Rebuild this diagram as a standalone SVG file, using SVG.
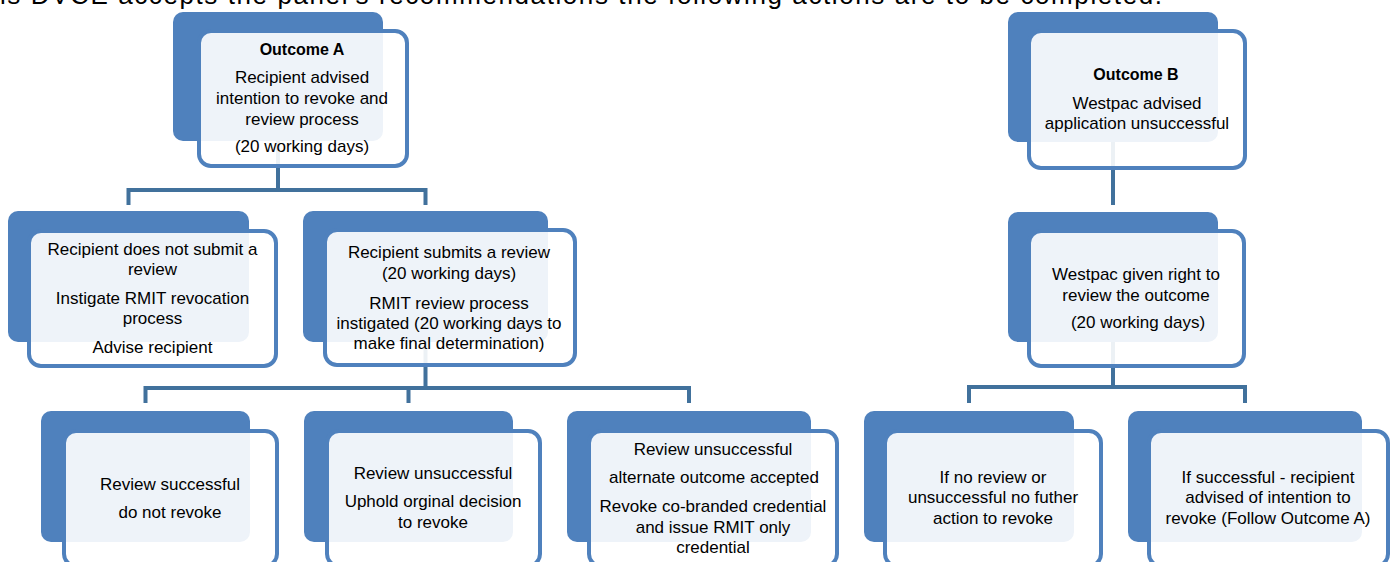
<svg xmlns="http://www.w3.org/2000/svg" width="1395" height="562" viewBox="0 0 1395 562">
<style>
.bk{fill:#4F81BD}
.fr{fill:#FFFFFF;fill-opacity:0.9;stroke:#4F81BD;stroke-width:4}
.cn{fill:none;stroke:#41719C;stroke-width:4;stroke-linejoin:miter}
.t{font-family:"Liberation Sans",Arial,sans-serif;font-size:17px;fill:#000;text-anchor:middle}
.b{font-family:"Liberation Sans",Arial,sans-serif;font-size:16px;font-weight:bold;fill:#000;text-anchor:middle}
.hd{font-family:"Liberation Sans",Arial,sans-serif;font-size:26px;fill:#000}
</style>
<rect width="1395" height="562" fill="#FFFFFF"/>
<text class="hd" x="0" y="4" textLength="1162" lengthAdjust="spacing">is DVCE accepts the panel's recommendations the following actions are to be completed.</text>
<g id="connectors">
<path class="cn" d="M278,141 V190 M128.5,190 H425.5 M128.5,188 V205 M425.5,188 V205"/>
<path class="cn" d="M425.5,342 V388 M145.5,388 H689 M145.5,386 V403 M408.5,386 V403 M689,386 V403"/>
<path class="cn" d="M1113,142 V205"/>
<path class="cn" d="M1113,342 V387 M969,387 H1245 M969,385 V403 M1245,385 V403"/>
</g>
<g id="outcomeA">
<rect class="bk" x="173" y="12" width="210" height="129" rx="10"/>
<rect class="fr" x="199" y="31" width="208" height="135" rx="12"/>
<text class="b" x="302" y="55">Outcome A</text>
<text class="t" x="302" y="83">Recipient advised</text>
<text class="t" x="302" y="104">intention to revoke and</text>
<text class="t" x="302" y="125">review process</text>
<text class="t" x="302" y="152">(20 working days)</text>
</g>
<g id="noSubmit">
<rect class="bk" x="8" y="211" width="241" height="131" rx="10"/>
<rect class="fr" x="29" y="231" width="247" height="135" rx="12"/>
<text class="t" x="152.5" y="255">Recipient does not submit a</text>
<text class="t" x="152.5" y="275">review</text>
<text class="t" x="152.5" y="304">Instigate RMIT revocation</text>
<text class="t" x="152.5" y="324">process</text>
<text class="t" x="152.5" y="353">Advise recipient</text>
</g>
<g id="submits">
<rect class="bk" x="303" y="211" width="245" height="131" rx="10"/>
<rect class="fr" x="325" y="230" width="250" height="135" rx="12"/>
<text class="t" x="449" y="258">Recipient submits a review</text>
<text class="t" x="449" y="279">(20 working days)</text>
<text class="t" x="449" y="309">RMIT review process</text>
<text class="t" x="449" y="329">instigated (20 working days to</text>
<text class="t" x="449" y="349">make final determination)</text>
</g>
<g id="reviewSuccessful">
<rect class="bk" x="41" y="411" width="209" height="131" rx="10"/>
<rect class="fr" x="64" y="431" width="213" height="135" rx="12"/>
<text class="t" x="170" y="490">Review successful</text>
<text class="t" x="170" y="518">do not revoke</text>
</g>
<g id="reviewUnsuccessful">
<rect class="bk" x="304" y="411" width="209" height="131" rx="10"/>
<rect class="fr" x="327" y="431" width="213" height="135" rx="12"/>
<text class="t" x="433" y="479">Review unsuccessful</text>
<text class="t" x="433" y="507">Uphold orginal decision</text>
<text class="t" x="433" y="528">to revoke</text>
</g>
<g id="alternateOutcome">
<rect class="bk" x="567" y="411" width="244" height="131" rx="10"/>
<rect class="fr" x="589" y="431" width="248" height="135" rx="12"/>
<text class="t" x="713" y="455">Review unsuccessful</text>
<text class="t" x="714" y="483">alternate outcome accepted</text>
<text class="t" x="713" y="512">Revoke co-branded credential</text>
<text class="t" x="713" y="533">and issue RMIT only</text>
<text class="t" x="713" y="553">credential</text>
</g>
<g id="outcomeB">
<rect class="bk" x="1008" y="12" width="210" height="130" rx="10"/>
<rect class="fr" x="1029" y="31" width="216" height="137" rx="12"/>
<text class="b" x="1136" y="80">Outcome B</text>
<text class="t" x="1137" y="109">Westpac advised</text>
<text class="t" x="1137" y="129">application unsuccessful</text>
</g>
<g id="westpacReview">
<rect class="bk" x="1008" y="212" width="210" height="130" rx="10"/>
<rect class="fr" x="1029" y="231" width="215" height="135" rx="12"/>
<text class="t" x="1136" y="280">Westpac given right to</text>
<text class="t" x="1136" y="301">review the outcome</text>
<text class="t" x="1138" y="328">(20 working days)</text>
</g>
<g id="noFurtherAction">
<rect class="bk" x="864" y="411" width="210" height="131" rx="10"/>
<rect class="fr" x="885" y="431" width="216" height="135" rx="12"/>
<text class="t" x="993" y="483">If no review or</text>
<text class="t" x="993" y="503">unsuccessful no futher</text>
<text class="t" x="993" y="524">action to revoke</text>
</g>
<g id="followOutcomeA">
<rect class="bk" x="1128" y="411" width="234" height="131" rx="10"/>
<rect class="fr" x="1149" y="431" width="239" height="135" rx="12"/>
<text class="t" x="1268" y="483">If successful - recipient</text>
<text class="t" x="1268" y="503">advised of intention to</text>
<text class="t" x="1268" y="524">revoke (Follow Outcome A)</text>
</g>
</svg>
